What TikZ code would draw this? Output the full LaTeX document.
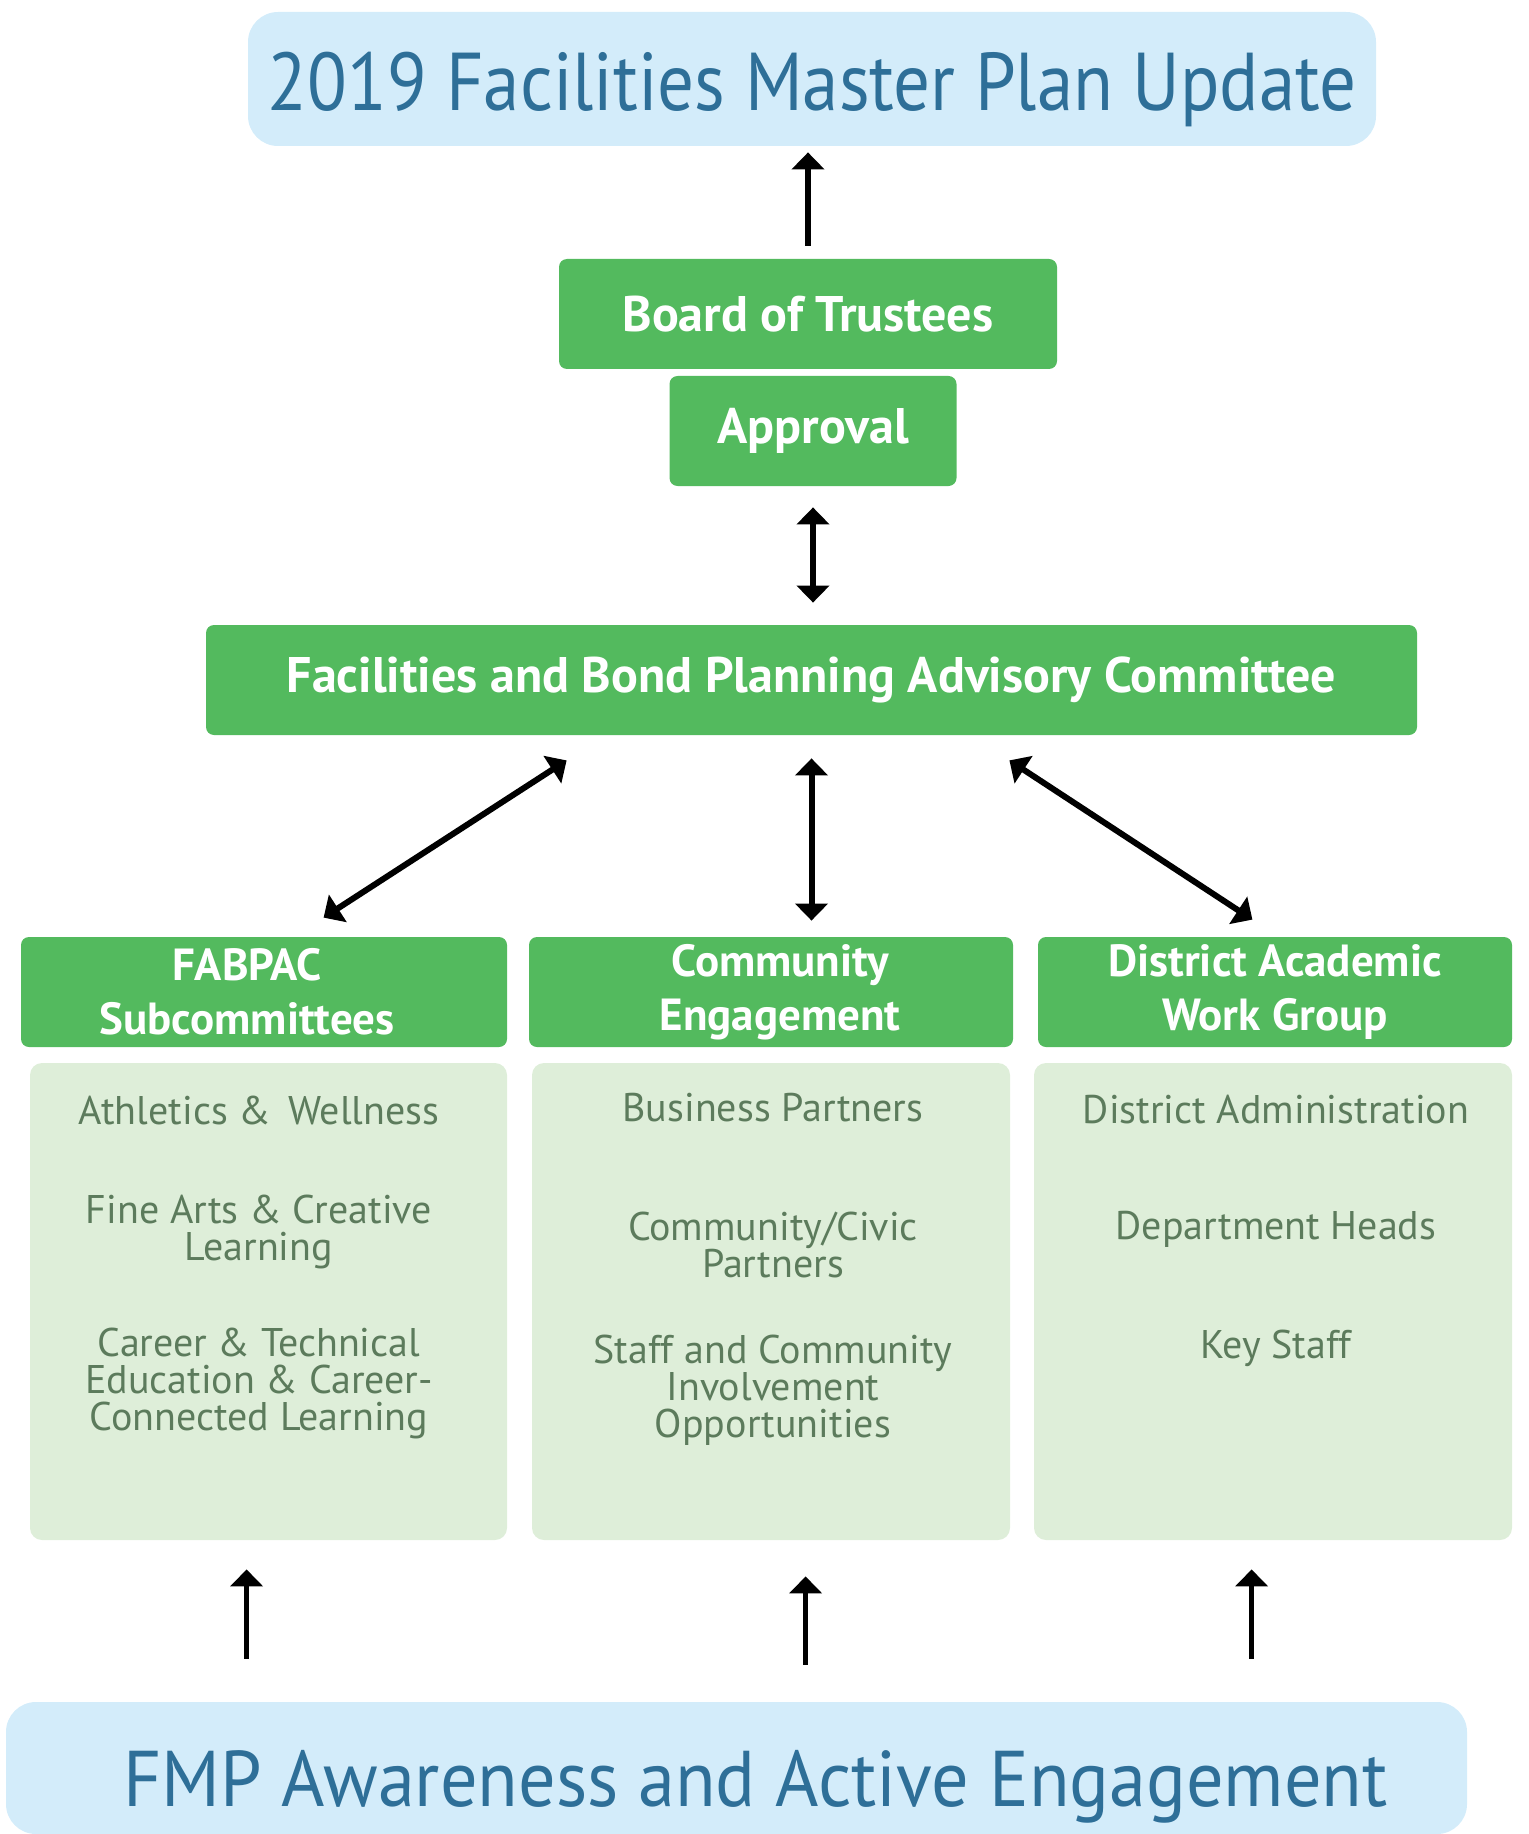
\documentclass[tikz,border=0pt]{standalone}
\usepackage{fontspec}
\setmainfont{PT Sans}
\newfontfamily\titlefont{PT Sans}[FakeStretch=0.89]
\newfontfamily\footfont{PT Sans}[FakeStretch=0.94]
\usetikzlibrary{positioning}
\usetikzlibrary{arrows.meta}
\definecolor{skyFill}{HTML}{D3ECFA}
\definecolor{titleBlue}{HTML}{2E6F98}
\definecolor{fmpGreen}{HTML}{53BA5E}
\definecolor{paleGreen}{HTML}{DEEED9}
\definecolor{itemGray}{HTML}{5C7B5C}

\tikzset{
	planBox/.style={rectangle, fill=skyFill, text=titleBlue, rounded corners=15pt, inner sep=0pt, text depth=0pt, font=\titlefont\fontsize{41}{44}\selectfont},
	greenBox/.style={rectangle, fill=fmpGreen, text=white, rounded corners=4pt, inner sep=0pt, align=center, font=\bfseries\fontsize{25}{27}\selectfont},
	headBox/.style={greenBox, font=\bfseries\fontsize{22.5}{27}\selectfont},
	listBox/.style={rectangle, fill=paleGreen, rounded corners=6pt, inner sep=0pt},
	listItem/.style={text=itemGray, align=center, inner sep=0pt, font=\fontsize{20}{18.5}\selectfont},
	bigArrow/.style={line width=3pt, -{Triangle[width=16pt,length=8.5pt]}},
	twoArrow/.style={line width=3pt, {Triangle[width=16pt,length=8.5pt]}-{Triangle[width=16pt,length=8.5pt]}},
	thinArrow/.style={line width=2.5pt, -{Triangle[width=16pt,length=8.5pt]}}
}

\begin{document}
\begin{tikzpicture}[x=0.5pt, y=-0.5pt]
	\useasboundingbox (0,0) rectangle (1528,1834);

	\node[planBox, text height=32pt, minimum width=564pt, minimum height=67pt](planUpdate) at (812,79){2019 Facilities Master Plan Update};

	\node[greenBox, minimum width=249pt, minimum height=55pt](boardTop) at (808,314){Board of Trustees};
	\node[greenBox, minimum width=143.5pt, minimum height=55pt](approval) at (813,431){Approval};
	\node[greenBox, minimum width=605.5pt, minimum height=55pt](advisory) at (811.5,680){Facilities and Bond Planning Advisory Committee};

	\node[headBox, minimum width=243pt, minimum height=55pt](fabpacHead) at (264,992){\hspace*{-17pt}FABPAC\\\hspace*{-17pt}Subcommittees};
	\node[headBox, minimum width=242pt, minimum height=55pt](commHead) at (771,992){\hspace*{9pt}Community\\\hspace*{9pt}Engagement};
	\node[headBox, minimum width=237pt, minimum height=55pt](districtHead) at (1275,992){District Academic\\Work Group};

	\node[listBox, minimum width=238.5pt, minimum height=238.5pt](fabpacList) at (268.5,1301.5){};
	\node[listBox, minimum width=239pt, minimum height=238.5pt](commList) at (771,1301.5){};
	\node[listBox, minimum width=239pt, minimum height=238.5pt](districtList) at (1273,1301.5){};

	\node[listItem](athletics) at (259,1110){Athletics \&\, Wellness};
	\node[listItem](fineArts) at (259,1232){Fine Arts \& Creative\\Learning};
	\node[listItem](career) at (259,1383){Career \& Technical\\Education \& Career-\\Connected Learning};
	\node[listItem](business) at (773,1108){Business Partners};
	\node[listItem](civic) at (773,1245){Community/Civic\\Partners};
	\node[listItem](involvement) at (773,1390){Staff and Community\\Involvement\\Opportunities};
	\node[listItem](districtAdmin) at (1276,1110){District Administration};
	\node[listItem](deptHeads) at (1276,1229){Department Heads};
	\node[listItem](keyStaff) at (1276,1348){Key Staff};

	\node[planBox, text height=38pt, font=\footfont\fontsize{39.5}{42}\selectfont, minimum width=730.5pt, minimum height=66pt](awareness) at (736.5,1768){\hspace*{19pt}FMP Awareness and Active Engagement};

	\draw[bigArrow, shorten <=6.5pt, shorten >=3pt](boardTop.north) -- (boardTop.north |- planUpdate.south);
	\draw[twoArrow, shorten <=10.5pt, shorten >=11pt](approval.south) -- (approval.south |- advisory.north);

	\draw[twoArrow]([shift={(361,25)}]advisory.south west) -- ([shift={(303,-19)}]fabpacHead.north west);
	\draw[twoArrow, shorten <=11.5pt, shorten >=8pt](advisory.south) -- (advisory.south |- commHead.north);
	\draw[twoArrow]([shift={(-408,25)}]advisory.south east) -- ([shift={(-260,-17)}]districtHead.north east);

	\draw[thinArrow]([shift={(241,-43)}]awareness.north west) -- ([shift={(217,29)}]fabpacList.south west);
	\draw[thinArrow]([shift={(800,-37)}]awareness.north west) -- ([shift={(274,36)}]commList.south west);
	\draw[thinArrow]([shift={(1246,-43)}]awareness.north west) -- ([shift={(218,29)}]districtList.south west);
\end{tikzpicture}
\end{document}
